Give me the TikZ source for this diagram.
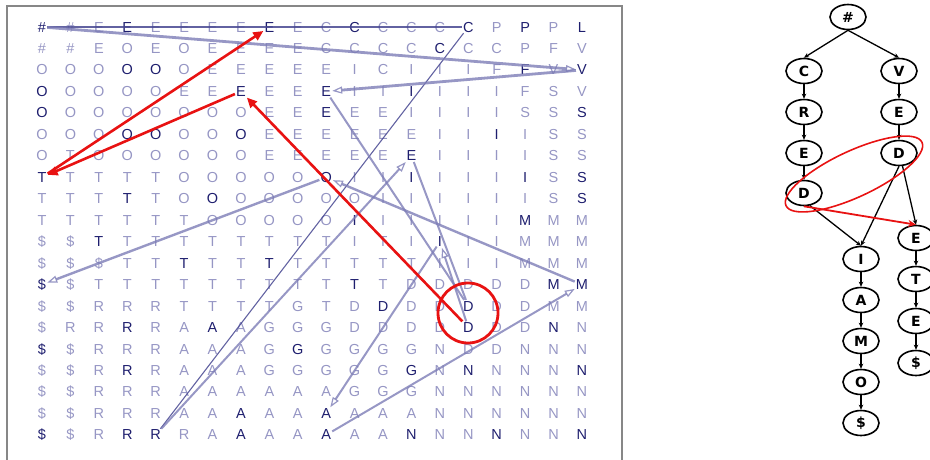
\documentclass[tikz,border=0pt]{standalone}
\usepackage{fontspec}
\setmainfont{Liberation Sans}
\newfontfamily\treefont{DejaVu Sans}
\usetikzlibrary{arrows.meta,shapes.geometric}
\definecolor{lt}{RGB}{150,150,196}
\definecolor{dk}{RGB}{30,30,110}
\definecolor{ln}{RGB}{125,125,182}
\definecolor{thn}{RGB}{70,70,145}
\definecolor{frm}{RGB}{135,135,135}
\definecolor{rd}{RGB}{232,18,18}
\begin{document}
\begin{tikzpicture}[x=1pt,y=-1pt,
  cell/.style={inner sep=1pt,text height=10pt,text depth=0pt,font=\fontsize{14.5}{14.5}\selectfont},
  tnode/.style={ellipse,draw=black,line width=1.6pt,minimum width=36pt,minimum height=25pt,inner sep=0pt,
    font=\treefont\bfseries\fontsize{14}{14}\selectfont},
  tarrow/.style={line width=1.3pt,-{Stealth[length=5pt,width=4.5pt]}},
  garrow/.style={draw=ln,line width=2pt,opacity=0.8,-{Triangle[open,length=10pt,width=7pt,line width=1.2pt]}},
  gline/.style={draw=ln,line width=2pt,opacity=0.8},
  thinline/.style={draw=thn,line width=1.1pt,opacity=0.85},
  redarrow/.style={draw=rd,line width=2.6pt,-{Triangle[length=10pt,width=9pt]}}]
\useasboundingbox (0,0) rectangle (930,459);
\draw[draw=frm,line width=1.5pt] (7,475) -- (7,6) -- (622,6) -- (622,475);
\foreach \row [count=\ri] in {
 {\#/1,\#/0,E/0,E/1,E/0,E/0,E/0,E/0,E/1,E/0,C/0,C/1,C/0,C/0,C/0,C/1,P/0,P/1,P/0,L/1},
 {\#/0,\#/0,E/0,O/0,E/0,O/0,E/0,E/0,E/0,E/0,C/0,C/0,C/0,C/0,C/1,C/0,C/0,P/0,F/0,V/0},
 {O/0,O/0,O/0,O/1,O/1,O/0,E/0,E/0,E/0,E/0,E/0,I/0,C/0,I/0,I/0,I/0,F/0,F/1,V/0,V/1},
 {O/1,O/0,O/0,O/0,O/0,E/0,E/0,E/1,E/0,E/0,E/1,I/0,I/0,I/1,I/0,I/0,I/0,F/0,S/0,V/0},
 {O/1,O/0,O/0,O/0,O/0,O/0,O/0,O/0,E/0,E/0,E/1,E/0,E/0,I/0,I/0,I/0,I/0,S/0,S/0,S/1},
 {O/0,O/0,O/0,O/1,O/1,O/0,O/0,O/1,E/0,E/0,E/0,E/0,E/0,E/0,I/0,I/0,I/1,I/0,S/0,S/0},
 {O/0,T/0,O/0,O/0,O/0,O/0,O/0,O/0,E/0,E/0,E/0,E/0,E/0,E/1,I/0,I/0,I/0,I/0,S/0,S/0},
 {T/1,T/0,T/0,T/0,T/0,O/0,O/0,O/0,O/0,O/0,O/1,I/0,I/0,I/1,I/0,I/0,I/0,I/1,S/0,S/1},
 {T/0,T/0,T/0,T/1,T/0,O/0,O/1,O/0,O/0,O/0,O/0,O/0,I/0,I/0,I/0,I/0,I/0,I/0,S/0,S/1},
 {T/0,T/0,T/0,T/0,T/0,T/0,O/0,O/0,O/0,O/0,O/0,I/1,I/0,I/0,I/0,I/0,I/0,M/1,M/0,M/0},
 {\$/0,\$/0,T/1,T/0,T/0,T/0,T/0,T/0,T/0,T/0,T/0,I/0,T/0,I/0,I/1,I/0,I/0,M/0,M/0,M/0},
 {\$/0,\$/0,\$/0,T/0,T/0,T/1,T/0,T/0,T/1,T/0,T/0,T/0,T/0,T/0,I/0,I/0,I/0,M/0,M/0,M/0},
 {\$/1,\$/0,T/0,T/0,T/0,T/0,T/0,T/0,T/0,T/0,T/0,T/1,T/0,D/0,D/0,D/0,D/0,D/0,M/1,M/1},
 {\$/0,\$/0,R/0,R/0,R/0,T/0,T/0,T/0,T/0,G/0,T/0,D/0,D/1,D/0,D/0,D/1,D/0,D/0,M/0,M/0},
 {\$/0,R/0,R/0,R/1,R/0,A/0,A/1,A/0,G/0,G/0,G/0,D/0,D/0,D/0,D/0,D/1,D/0,D/0,N/1,N/0},
 {\$/1,\$/0,R/0,R/0,R/0,A/0,A/0,A/0,G/0,G/1,G/0,G/0,G/0,G/0,N/0,D/0,D/0,N/0,N/0,N/0},
 {\$/0,\$/0,R/0,R/1,R/0,A/0,A/0,A/0,G/0,G/0,G/0,G/0,G/0,G/1,N/0,N/1,N/0,N/0,N/0,N/1},
 {\$/0,\$/0,R/0,R/0,R/0,A/0,A/0,A/0,A/0,A/0,A/0,G/0,G/0,G/0,N/0,N/0,N/0,N/0,N/0,N/0},
 {\$/0,\$/0,R/0,R/0,R/0,A/0,A/0,A/1,A/0,A/0,A/1,A/0,A/0,A/0,N/0,N/0,N/0,N/0,N/0,N/0},
 {\$/1,\$/0,R/0,R/1,R/1,R/0,A/0,A/1,A/0,A/0,A/1,A/0,A/0,N/1,N/0,N/0,N/1,N/0,N/0,N/1}} {
  \foreach \ch/\d [count=\ci] in \row {
    \ifnum\d=1 \def\cc{dk}\else\def\cc{lt}\fi
    \node[cell,text=\cc] (g\ri-\ci) at ({42+(\ci-1)*28.42},{27+(\ri-1)*21.47}) {\ch};
  }
}
% grid connectors
\draw[thinline] (g1-1) -- (g1-16);
\draw[thinline] (g1-16) -- (g20-5);
\draw[garrow,line width=2.8pt] (g1-1) -- (g3-20);
\draw[garrow,line width=2.8pt] (g3-20) -- (g4-11);
\draw[gline] (g4-11) -- (g14-16);
\draw[garrow] (g20-5) -- (g7-14);
\draw[gline] (g7-14) -- (g14-16);
\draw[garrow] (g15-16) -- (g11-15);
\draw[garrow] (g11-15) -- (g19-11);
\draw[garrow] (g20-11) -- (g13-20);
\draw[garrow,line width=2.4pt] (g13-20) -- (g8-11);
\draw[garrow,line width=2.4pt] (g8-11) -- (g13-1);
% red overlay
\node[circle,draw=rd,line width=2.8pt,minimum size=60pt,inner sep=0pt] (rc) at (468,313) {};
\draw[redarrow] (g15-16) -- (g4-8);
\draw[redarrow] (g4-8) -- (g8-1);
\draw[redarrow] (g8-1) -- (g1-9);
% tree
\node[tnode] (th) at (848,17) {\#};
\node[tnode] (tC) at (804,71) {C};
\node[tnode] (tV) at (899,71) {V};
\node[tnode] (tR) at (804,112) {R};
\node[tnode] (tE2) at (899,112) {E};
\node[tnode] (tE1) at (804,153) {E};
\node[tnode] (tD2) at (899,153) {D};
\node[tnode] (tD1) at (804,193) {D};
\node[tnode] (tI) at (861,259) {I};
\node[tnode] (tA) at (861,300) {A};
\node[tnode] (tM) at (861,341) {M};
\node[tnode] (tO) at (861,382) {O};
\node[tnode] (tS1) at (861,423) {\$};
\node[tnode] (tE3) at (916,238) {E};
\node[tnode] (tT) at (916,279) {T};
\node[tnode] (tE4) at (916,321) {E};
\node[tnode] (tS2) at (916,363) {\$};
\draw[tarrow] (th.south) -- (tC.north);
\draw[tarrow] (th.south) -- (tV.north);
\draw[tarrow] (tC) -- (tR);
\draw[tarrow] (tR) -- (tE1);
\draw[tarrow] (tE1) -- (tD1);
\draw[tarrow] (tV) -- (tE2);
\draw[tarrow] (tE2) -- (tD2);
\draw[tarrow] (tD1.-65) -- (tI.north);
\draw[tarrow] (tD2.south) -- (tI.north);
\draw[tarrow] (tD2.-75) -- (tE3.north);
\draw[tarrow] (tI) -- (tA);
\draw[tarrow] (tA) -- (tM);
\draw[tarrow] (tM) -- (tO);
\draw[tarrow] (tO) -- (tS1);
\draw[tarrow] (tE3) -- (tT);
\draw[tarrow] (tT) -- (tE4);
\draw[tarrow] (tE4) -- (tS2);
\node[ellipse,draw=rd,line width=1.6pt,minimum width=150pt,minimum height=46pt,rotate=25] (rell) at (854,174) {};
\draw[draw=rd,line width=1.8pt,-{Stealth[length=8pt,width=7pt]}] (tD1.south) -- (tE3.north);
\end{tikzpicture}
\end{document}
